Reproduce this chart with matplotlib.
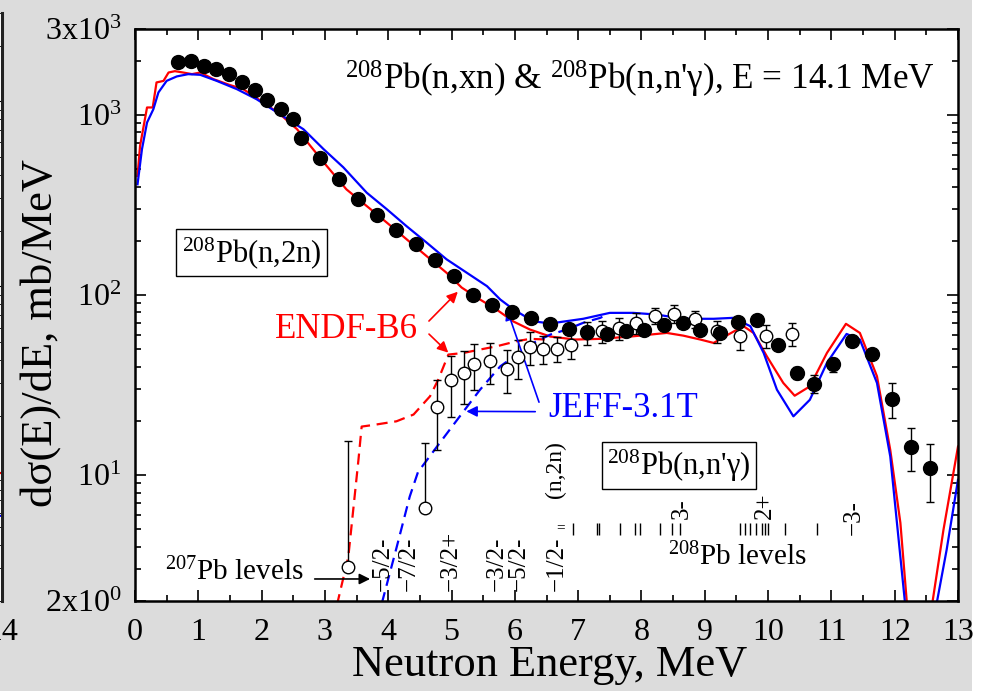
import numpy as np
import matplotlib
matplotlib.use('Agg')
import matplotlib.pyplot as plt
from matplotlib.ticker import FixedLocator, LogLocator, MultipleLocator, NullFormatter
from matplotlib.patches import Rectangle

plt.rcParams['font.family'] = ['Liberation Serif', 'DejaVu Serif']
plt.rcParams['mathtext.fontset'] = 'custom'
plt.rcParams['mathtext.rm'] = 'Liberation Serif'
plt.rcParams['mathtext.it'] = 'Liberation Serif:italic'

# (n,2n) / (n,xn) experiment, filled circles
E_2n = [0.68, 0.88, 1.09, 1.28, 1.48, 1.69, 1.89, 2.08, 2.30, 2.49, 2.63, 2.93, 3.23, 3.53, 3.82,
        4.13, 4.44, 4.74, 5.04, 5.34, 5.64, 5.96, 6.26, 6.55, 6.85, 7.14, 7.45, 7.76, 8.04, 8.35,
        8.65, 8.93, 9.24, 9.53, 9.83, 10.15, 10.45, 10.73, 11.02, 11.32, 11.64, 11.95, 12.26, 12.55]
s_2n = [1970, 2000, 1875, 1795, 1685, 1515, 1380, 1210, 1075, 945, 745, 580, 443, 343, 277,
        229, 191, 156, 128, 99.4, 87.8, 80.0, 74.7, 69.2, 64.9, 62.1, 61.1, 62.9, 64.3, 68.3,
        69.5, 64.3, 61.6, 70.8, 72.6, 52.6, 36.9, 32.2, 41.2, 55.8, 47.1, 26.5, 14.4, 11.0]
err_2n = [0]*35 + [0, 2.9, 3.8, 3.7, 3.0, 2.5, 5.8, 3.8, 3.9]

# (n,n'g) experiment, open circles
E_ng = [3.37, 4.58, 4.77, 4.99, 5.20, 5.36, 5.60, 5.87, 6.05, 6.24, 6.45, 6.66, 6.89, 7.14,
        7.37, 7.64, 7.92, 8.22, 8.52, 8.85, 9.20, 9.56, 9.96, 10.38]
s_ng = [3.10, 6.55, 23.8, 33.6, 36.9, 41.6, 43.2, 39.0, 45.1, 51.5, 50.4, 50.4, 53.1, 61.6,
        62.9, 65.2, 70.1, 76.9, 78.6, 74.0, 62.9, 59.5, 59.5, 60.9]
err_ng = [12.4, 8.5, 10, 12.5, 12, 12, 11, 10.5, 11, 10.5, 9, 8, 9, 9, 9, 9, 9, 8, 9, 8, 9, 10, 9, 9]

# ENDF-B6 (n,xn) solid
E_endf = [0.04, 0.08, 0.19, 0.28, 0.34, 0.45, 0.53, 0.63, 0.76, 0.90, 1.03, 1.24, 1.50, 1.71,
          2.03, 2.29, 2.56, 2.77, 3.03, 3.34, 3.66, 3.98, 4.29, 4.61, 4.92, 5.16, 5.45, 5.71,
          5.98, 6.24, 6.56, 6.95, 7.35, 7.87, 8.40, 8.66, 8.93, 9.14, 9.37, 9.61, 9.77, 9.98,
          10.24, 10.42, 10.66, 10.93, 11.23, 11.45, 11.72, 11.93, 12.09, 12.19, 12.35, 12.50,
          12.59, 12.77, 13.0]
s_endf = [458, 673, 1100, 1100, 1515, 1545, 1720, 1750, 1720, 1685, 1720, 1580, 1465, 1390,
          1170, 1010, 833, 673, 520, 386, 312, 252, 204, 164, 133, 110, 94.4, 83.1,
          71.2, 64.3, 58.8, 56.6, 57.1, 59.0, 61.6, 59.5, 56.6, 54.2, 60.3, 67.2, 61.6, 45.7,
          32.5, 27.6, 31.1, 47.7, 69.2, 61.6, 35.4, 13.8, 5.43, 2.0, 0.5, 0.5,
          1.9, 4.96, 14.4]

# JEFF-3.1T (n,xn) solid
E_jeff = [0.04, 0.11, 0.19, 0.29, 0.37, 0.50, 0.66, 0.84, 1.03, 1.29, 1.61, 1.92, 2.29, 2.66,
          2.98, 3.29, 3.66, 3.98, 4.29, 4.61, 4.92, 5.24, 5.56, 5.77, 5.98, 6.29, 6.56, 7.08,
          7.50, 7.87, 8.24, 8.66, 9.14, 9.45, 9.72, 9.93, 10.14, 10.40, 10.66, 10.93, 11.24,
          11.45, 11.72, 11.93, 12.16, 12.35, 12.55, 12.67, 12.82, 13.0]
s_jeff = [412, 645, 907, 1076, 1333, 1546, 1636, 1684, 1670, 1546, 1390, 1223, 1009, 833,
          645, 512, 370, 299, 241, 195, 158, 133, 112, 94.4, 83.1, 71.5, 69.5, 73.8,
          79.6, 79.6, 77.9, 73.8, 73.8, 74.7, 67.1, 47.7, 29.8, 21.2, 26.2, 42.0, 60.8,
          56.6, 32.5, 12.7, 2.0, 0.5, 0.5, 2.0, 3.84, 9.42]

# (n,n'g) dashed curves
E_endf_g = [3.19, 3.37, 3.53, 3.58, 3.77, 4.13, 4.40, 4.66, 4.79, 4.95, 5.19, 5.45, 5.71, 6.03, 6.24, 6.50]
s_endf_g = [1.9, 3.53, 12.2, 18.6, 19.0, 19.9, 21.7, 27.4, 33.9, 46.7, 47.7, 49.8, 51.9, 55.4, 57.1, 56.6]
E_jeff_g = [3.90, 4.13, 4.34, 4.47, 4.77, 5.19, 5.45, 5.77, 6.03, 6.29, 6.56, 6.82, 7.08, 7.35, 7.45]
s_jeff_g = [1.95, 3.94, 7.61, 10.4, 14.4, 22.6, 29.8, 40.2, 46.7, 54.2, 60.3, 64.3, 70.1, 74.7, 77.9]

# level schemes
lev207_E = [3.92, 4.32, 4.98, 5.71, 6.06, 6.66]
lev207_lab = ['5/2-', '7/2-', '3/2+', '3/2-', '5/2-', '1/2-']
lev208_E = [6.92, 7.29, 7.33, 7.66, 7.90, 7.98, 8.29, 8.48, 8.61, 9.56, 9.64, 9.72, 9.81,
            9.90, 9.95, 10.00, 10.27, 10.77]
lev208_lab_E = [8.64, 9.95, 11.36]
lev208_lab = ['3-', '2+', '\u22123-']

yticks = [2, 10, 100, 1000, 3000]
yticklabels = [r'$\mathregular{2x10^{0}}$', r'$\mathregular{10^{1}}$', r'$\mathregular{10^{2}}$',
               r'$\mathregular{10^{3}}$', r'$\mathregular{3x10^{3}}$']

# neighbouring panel, only its edge is visible
E_prev = [13.0, 14.5]
s_prev_r = [11.5, 9.0]
s_prev_b = [6.5, 5.4]

fig = plt.figure(figsize=(9.92, 6.91), dpi=100, facecolor='#dcdcdc')
fig.patches.append(Rectangle((972/992, 0), 20/992, 1, transform=fig.transFigure,
                             facecolor='white', edgecolor='none', zorder=-1))

# cut-off left panel
ax0 = fig.add_axes([-0.8, 0.1302, 0.8025, 1 - 13/691 - 0.1302])
ax0.set_yscale('log')
ax0.set_ylim(2, 3000)
ax0.set_xlim(0, 14)
ax0.plot(E_prev, s_prev_r, color='red', lw=1.5)
ax0.plot(E_prev, s_prev_b, color='blue', lw=1.5)
for sp in ['top', 'bottom', 'left']:
    ax0.spines[sp].set_visible(False)
ax0.spines['right'].set_linewidth(2.2)
ax0.spines['right'].set_color('#222222')
ax0.set_xticks([14])
ax0.set_xticklabels(['14'])
ax0.tick_params(axis='x', length=0, labelsize=23, pad=12)
ax0.tick_params(axis='y', which='both', direction='in', left=False, right=True,
                labelleft=False, labelright=False)
ax0.yaxis.set_minor_formatter(NullFormatter())

ax = fig.add_axes([135/992, 1 - 601/691, 823/992, 572/691])
ax.set_yscale('log')
ax.set_xlim(0, 13)
ax.set_ylim(2, 3000)

ax.plot(E_endf, s_endf, color='red', lw=1.6, zorder=2)
ax.plot(E_jeff, s_jeff, color='blue', lw=1.6, zorder=2)
ax.plot(E_endf_g, s_endf_g, color='red', lw=1.6, ls=(0, (5, 3)), zorder=2)
ax.plot(E_jeff_g, s_jeff_g, color='blue', lw=1.6, ls=(0, (5, 3)), zorder=2)

s_ng_a = np.array(s_ng)
err_ng_a = np.array(err_ng)
lo = np.where(err_ng_a < s_ng_a, err_ng_a, 0)
ax.errorbar(E_ng, s_ng, yerr=[lo, err_ng_a], fmt='o', ms=9, mfc='white', mec='black', mew=1.0,
            ecolor='black', elinewidth=1.0, capsize=3, capthick=1.0, zorder=3)
ax.errorbar(E_2n, s_2n, yerr=err_2n, fmt='o', ms=10, mfc='black', mec='black',
            ecolor='black', elinewidth=1.0, capsize=3, capthick=1.0, zorder=4)

# axes formatting
ax.xaxis.set_major_locator(MultipleLocator(1))
ax.xaxis.set_minor_locator(MultipleLocator(0.5))
ax.yaxis.set_major_locator(FixedLocator(yticks))
ax.set_yticklabels(yticklabels)
ax.yaxis.set_minor_locator(LogLocator(base=10, subs=np.arange(2, 10)))
ax.yaxis.set_minor_formatter(NullFormatter())
ax.tick_params(which='both', direction='in', top=True, right=True, width=1.2)
ax.tick_params(which='major', length=8, labelsize=23)
ax.tick_params(which='minor', length=4.5)
ax.tick_params(axis='x', pad=12)
ax.tick_params(axis='y', pad=10)
for sp in ax.spines.values():
    sp.set_linewidth(1.8)

ax.set_xlabel('Neutron Energy, MeV', fontsize=32)
ax.xaxis.set_label_coords(0.504, -0.112)
ax.xaxis.label.set_va('center')
ax.set_ylabel('d\u03c3(E)/dE, mb/MeV', fontsize=32)
ax.yaxis.set_label_coords(-0.115, 0.469)
ax.yaxis.label.set_va('center')

# texts
ax.text(0.972, 0.911, "$^{208}$Pb(n,xn) & $^{208}$Pb(n,n'\u03b3), E = 14.1 MeV",
        transform=ax.transAxes, ha='right', va='center', fontsize=25.3)
ax.text(0.1416, 0.609, '$^{208}$Pb(n,2n)', transform=ax.transAxes, ha='center', va='center',
        fontsize=22, bbox=dict(boxstyle='square,pad=0.18', fc='white', ec='black', lw=1))
ax.text(0.661, 0.237, "$^{208}$Pb(n,n'\u03b3)", transform=ax.transAxes, ha='center', va='center',
        fontsize=22, bbox=dict(boxstyle='square,pad=0.18', fc='white', ec='black', lw=1))

ax.text(0.344, 0.474, 'ENDF-B6', color='red', transform=ax.transAxes, ha='right', va='center',
        fontsize=25)
ax.annotate('', xy=(5.13, 107), xytext=(0.3548, 0.486), textcoords='axes fraction',
            arrowprops=dict(arrowstyle='-|>', color='red', lw=1.2, mutation_scale=16))
ax.annotate('', xy=(4.98, 46.7), xytext=(0.3548, 0.470), textcoords='axes fraction',
            arrowprops=dict(arrowstyle='-|>', color='red', lw=1.2, mutation_scale=16))

ax.text(0.502, 0.337, 'JEFF-3.1T', color='blue', transform=ax.transAxes, ha='left', va='center',
        fontsize=25)
ax.annotate('', xy=(5.86, 86.3), xytext=(0.492, 0.343), textcoords='axes fraction',
            arrowprops=dict(arrowstyle='-|>', color='blue', lw=1.2, mutation_scale=16))
ax.annotate('', xy=(5.19, 22.6), xytext=(0.4897, 0.331), textcoords='axes fraction',
            arrowprops=dict(arrowstyle='-|>', color='blue', lw=1.2, mutation_scale=16))

ax.text(6.64, 0.229, '(n,2n)', transform=ax.get_xaxis_transform(), rotation=90,
        ha='center', va='center', fontsize=17)

# level schemes
xt = ax.get_xaxis_transform()
for e, lab in zip(lev207_E, lev207_lab):
    ax.text(e, 0.0175, '\u2212' + lab, transform=xt, rotation=90, ha='center', va='bottom',
            fontsize=18)
ax.text(6.72, 0.128, '=', transform=xt, ha='center', va='center', fontsize=11)
ax.vlines(lev208_E, 0.115, 0.136, transform=xt, color='black', lw=1)
for e, lab in zip(lev208_lab_E, lev208_lab):
    ax.text(e, 0.116 if lab.startswith('\u2212') else 0.143, lab, transform=xt, rotation=90,
            ha='center', va='bottom', fontsize=18)

ax.text(0.0365, 0.0507, '$^{207}$Pb levels', transform=ax.transAxes, ha='left', va='center',
        fontsize=21)
ax.annotate('', xy=(0.289, 0.0385), xytext=(0.215, 0.0385), xycoords='axes fraction',
            arrowprops=dict(arrowstyle='-|>', color='black', lw=1.2, mutation_scale=16))
ax.text(0.6476, 0.0769, '$^{208}$Pb levels', transform=ax.transAxes, ha='left', va='center',
        fontsize=21)

fig.savefig('out.png', dpi=100, facecolor=fig.get_facecolor())
